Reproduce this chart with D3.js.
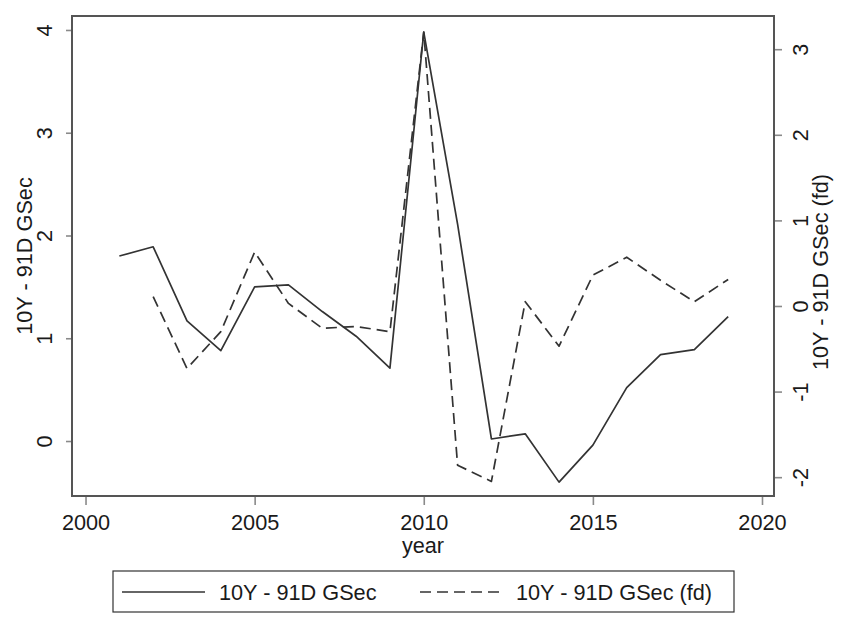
<!DOCTYPE html>
<html>
<head>
<meta charset="utf-8">
<script src="https://cdn.jsdelivr.net/npm/d3@7"></script>
<style>
  html, body { margin: 0; padding: 0; background: #fff; }
  svg { display: block; font-family: "Liberation Sans", Arial, sans-serif; }
</style>
</head>
<body>
<svg id="chart" width="841" height="619"></svg>
<script>
// ---- data ----
const years = [2001,2002,2003,2004,2005,2006,2007,2008,2009,2010,2011,2012,2013,2014,2015,2016,2017,2018,2019];
const spread = [1.80,1.89,1.17,0.88,1.50,1.52,1.26,1.02,0.71,3.98,2.11,0.02,0.07,-0.40,-0.04,0.52,0.84,0.89,1.21];
const spreadFd = [null,0.11,-0.73,-0.30,0.63,0.03,-0.26,-0.24,-0.30,3.20,-1.86,-2.05,0.05,-0.47,0.36,0.57,0.30,0.05,0.31];
const xTicks = [2000,2005,2010,2015,2020];
const yLeftTicks = [0,1,2,3,4];
const yRightTicks = [-2,-1,0,1,2,3];
const labels = {
  x: "year",
  yLeft: "10Y - 91D GSec",
  yRight: "10Y - 91D GSec (fd)",
  legend: ["10Y - 91D GSec", "10Y - 91D GSec (fd)"]
};

// ---- layout ----
const svg = d3.select("#chart");
const L = 72, R = 774, T = 16, B = 496;
const fs = 21.7;
const textCol = "#1a1a1a";
const fmt = d => String(d);

const x = d3.scaleLinear().domain([1999.6, 2020.355]).range([L, R]);
const yL = d3.scaleLinear().domain([-0.535, 4.136]).range([B, T]);
const yR = d3.scaleLinear().domain([-2.22, 3.388]).range([B, T]);

// axes
const gx = svg.append("g").attr("transform", `translate(0,${B})`)
  .call(d3.axisBottom(x).tickValues(xTicks).tickFormat(fmt).tickSize(9).tickPadding(10));
const gl = svg.append("g").attr("transform", `translate(${L},0)`)
  .call(d3.axisLeft(yL).tickValues(yLeftTicks).tickFormat(fmt).tickSize(6));
const gr = svg.append("g").attr("transform", `translate(${R},0)`)
  .call(d3.axisRight(yR).tickValues(yRightTicks).tickFormat(fmt).tickSize(8));

[gx, gl, gr].forEach(g => {
  g.select(".domain").remove();
  g.selectAll(".tick line").attr("stroke", "#8a8a8a").attr("stroke-width", 1.6);
  g.selectAll(".tick text").attr("fill", textCol).attr("font-size", fs)
    .attr("font-family", "'Liberation Sans', Arial, sans-serif");
});
gx.selectAll(".tick text").attr("dy", "0.71em");
// rotated y labels
gl.selectAll(".tick text")
  .attr("x", null)
  .attr("text-anchor", "middle")
  .attr("transform", `translate(${44 - L},0) rotate(-90)`)
  .attr("dy", "0.36em");
gr.selectAll(".tick text")
  .attr("x", null)
  .attr("text-anchor", "middle")
  .attr("transform", `translate(${800 - R},0) rotate(-90)`)
  .attr("dy", "0.36em");

// frame
svg.append("rect").attr("x", L).attr("y", T).attr("width", R - L).attr("height", B - T)
  .attr("fill", "none").attr("stroke", "#555").attr("stroke-width", 2);

// lines
const pts = years.map((yr, i) => ({yr, a: spread[i], b: spreadFd[i]}));
const lineA = d3.line().x(d => x(d.yr)).y(d => yL(d.a));
const lineB = d3.line().defined(d => d.b !== null).x(d => x(d.yr)).y(d => yR(d.b));

svg.append("path").datum(pts).attr("d", lineA)
  .attr("fill", "none").attr("stroke", "#333").attr("stroke-width", 1.7).attr("stroke-linejoin", "round");
svg.append("path").datum(pts).attr("d", lineB)
  .attr("fill", "none").attr("stroke", "#333").attr("stroke-width", 1.7)
  .attr("stroke-dasharray", "11,6").attr("stroke-linejoin", "round");

// axis titles
svg.append("text").attr("x", (L + R) / 2).attr("y", 553).attr("text-anchor", "middle")
  .attr("font-size", fs).attr("fill", textCol).text(labels.x);
svg.append("text").attr("text-anchor", "middle").attr("font-size", fs).attr("fill", textCol)
  .attr("transform", `translate(24,${(T + B) / 2}) rotate(-90)`).attr("dy", "0.36em").text(labels.yLeft);
svg.append("text").attr("text-anchor", "middle").attr("font-size", fs).attr("fill", textCol)
  .attr("transform", `translate(820,272) rotate(-90)`).attr("dy", "0.36em").text(labels.yRight);

// legend
const lg = svg.append("g");
lg.append("rect").attr("x", 113).attr("y", 571).attr("width", 621).attr("height", 41)
  .attr("fill", "#fff").attr("stroke", "#333").attr("stroke-width", 1.2);
const legendItems = [
  {x1: 122, x2: 205, tx: 219, dash: null, label: labels.legend[0]},
  {x1: 420, x2: 500, tx: 516, dash: "11,6", label: labels.legend[1]}
];
legendItems.forEach(it => {
  lg.append("line").attr("x1", it.x1).attr("x2", it.x2).attr("y1", 592).attr("y2", 592)
    .attr("stroke", "#333").attr("stroke-width", 1.7).attr("stroke-dasharray", it.dash);
  lg.append("text").attr("x", it.tx).attr("y", 592).attr("dy", "0.36em")
    .attr("font-size", fs).attr("fill", textCol).text(it.label);
});
</script>
</body>
</html>
